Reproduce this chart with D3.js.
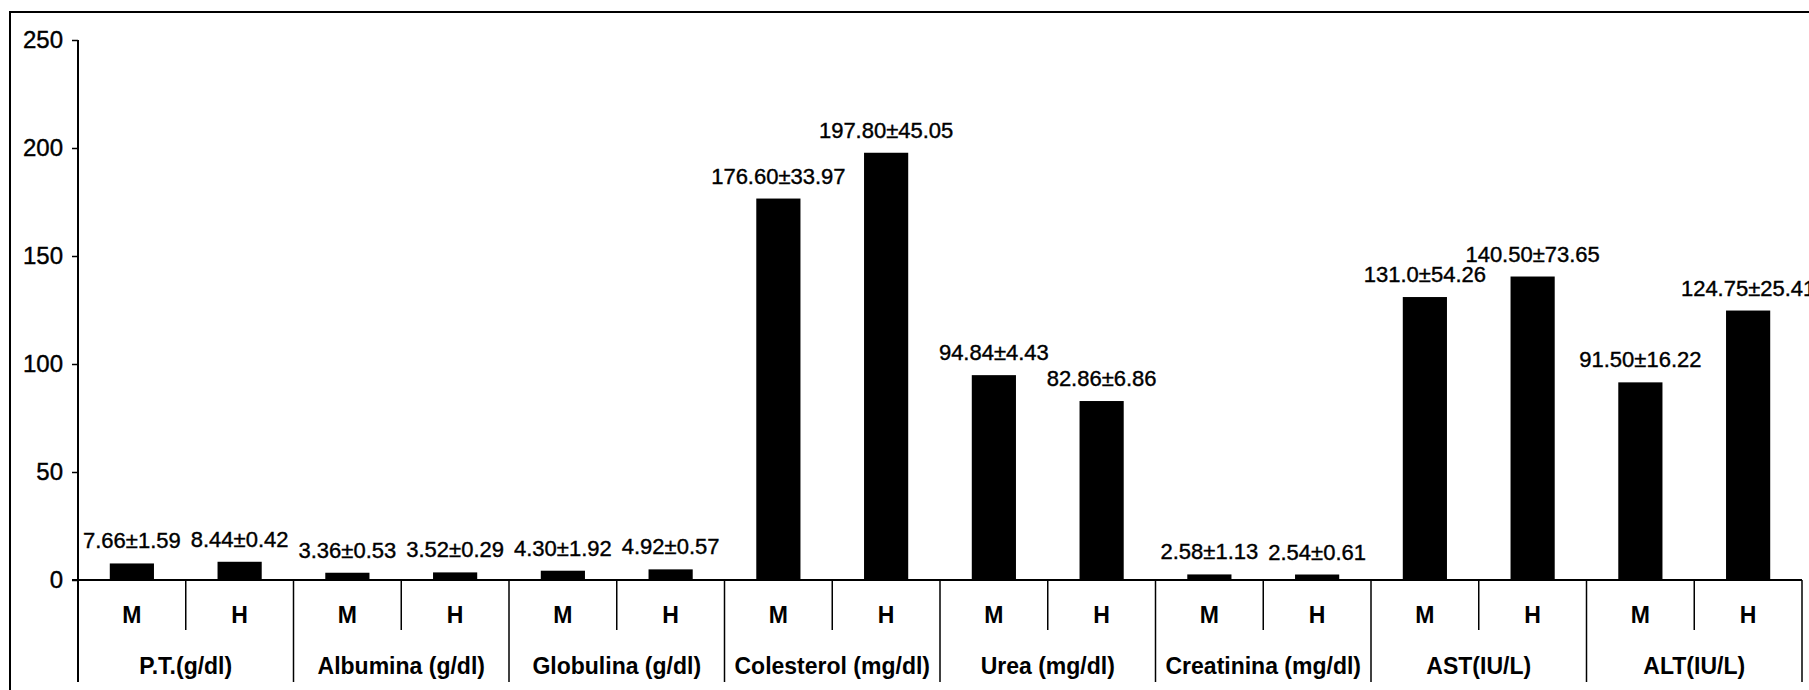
<!DOCTYPE html>
<html>
<head>
<meta charset="utf-8">
<script src="https://cdn.jsdelivr.net/npm/d3@7"></script>
<style>
  body { margin: 0; background: #fff; }
  svg { display: block; font-family: "Liberation Sans", Arial, sans-serif; }
</style>
</head>
<body>
<svg id="chart" width="1809" height="690"></svg>
<script>
// groups and sub-categories
const groups = ['P.T.(g/dl)', 'Albumina (g/dl)', 'Globulina (g/dl)', 'Colesterol (mg/dl)',
    'Urea (mg/dl)', 'Creatinina (mg/dl)', 'AST(IU/L)', 'ALT(IU/L)'];
const sexes = ['M', 'H'];

// mean values
const valuesM = [7.66, 3.36, 4.30, 176.60, 94.84, 2.58, 131.0, 91.50];
const valuesH = [8.44, 3.52, 4.92, 197.80, 82.86, 2.54, 140.50, 124.75];

// labels printed over the bars (mean ± sd)
const labelsM = ['7.66±1.59', '3.36±0.53', '4.30±1.92', '176.60±33.97', '94.84±4.43', '2.58±1.13', '131.0±54.26', '91.50±16.22'];
const labelsH = ['8.44±0.42', '3.52±0.29', '4.92±0.57', '197.80±45.05', '82.86±6.86', '2.54±0.61', '140.50±73.65', '124.75±25.41'];

const yTicks = [0, 50, 100, 150, 200, 250];

// flatten into one bar per slot
var bars = [];
groups.forEach(function(g, i) {
    bars.push({ key: g + '|M', group: g, sex: sexes[0], value: valuesM[i], label: labelsM[i] });
    bars.push({ key: g + '|H', group: g, sex: sexes[1], value: valuesH[i], label: labelsH[i] });
});

var svg = d3.select('#chart');

// outer frame of the scanned figure
svg.append('rect')
    .attr('x', 10)
    .attr('y', 12)
    .attr('width', 1900)
    .attr('height', 800)
    .attr('fill', 'none')
    .attr('stroke', '#000')
    .attr('stroke-width', 2);

var plotLeft = 78, plotRight = 1802, plotTop = 40, base = 580, plotBottom = 682;

var xScale = d3.scaleBand()
    .domain(bars.map(function(d) { return d.key; }))
    .range([plotLeft, plotRight]);

var groupScale = d3.scaleBand()
    .domain(groups)
    .range([plotLeft, plotRight]);

var yScale = d3.scaleLinear()
    .domain([0, 250])
    .range([base, plotTop]);

var barWidth = xScale.bandwidth() * 0.41;

// y axis
var yAxis = svg.append('g')
    .attr('transform', 'translate(' + plotLeft + ',0)')
    .call(d3.axisLeft(yScale).tickValues(yTicks).tickSize(6).tickSizeOuter(0).tickPadding(9));
yAxis.select('.domain').remove();
yAxis.selectAll('line').attr('stroke', '#000').attr('stroke-width', 1.5);
yAxis.selectAll('text')
    .attr('fill', '#000')
    .attr('stroke', '#000')
    .attr('stroke-width', 0.4)
    .style('font-size', '24px');

svg.append('line')
    .attr('x1', plotLeft).attr('x2', plotLeft)
    .attr('y1', plotTop).attr('y2', plotBottom)
    .attr('stroke', '#000').attr('stroke-width', 2);

// bars
svg.append('g').selectAll('rect')
    .data(bars)
    .join('rect')
    .attr('x', function(d) { return xScale(d.key) + (xScale.bandwidth() - barWidth) / 2; })
    .attr('y', function(d) { return yScale(d.value); })
    .attr('width', barWidth)
    .attr('height', function(d) { return yScale(0) - yScale(d.value); })
    .attr('fill', '#000');

// value labels
svg.append('g').selectAll('text')
    .data(bars)
    .join('text')
    .attr('x', function(d) { return xScale(d.key) + xScale.bandwidth() / 2; })
    .attr('y', function(d) { return yScale(d.value) - 15; })
    .attr('text-anchor', 'middle')
    .attr('stroke', '#000')
    .attr('stroke-width', 0.4)
    .style('font-size', '22px')
    .text(function(d) { return d.label; });

// baseline
svg.append('line')
    .attr('x1', plotLeft - 6).attr('x2', plotRight)
    .attr('y1', base).attr('y2', base)
    .attr('stroke', '#000').attr('stroke-width', 2);

// dividers between M and H (short) and between groups (long)
svg.append('g').selectAll('line')
    .data(groups)
    .join('line')
    .attr('x1', function(d) { return groupScale(d) + groupScale.bandwidth() / 2; })
    .attr('x2', function(d) { return groupScale(d) + groupScale.bandwidth() / 2; })
    .attr('y1', base)
    .attr('y2', 630)
    .attr('stroke', '#000').attr('stroke-width', 1.5);

svg.append('g').selectAll('line')
    .data(groups)
    .join('line')
    .attr('x1', function(d) { return groupScale(d) + groupScale.bandwidth(); })
    .attr('x2', function(d) { return groupScale(d) + groupScale.bandwidth(); })
    .attr('y1', base)
    .attr('y2', plotBottom)
    .attr('stroke', '#000').attr('stroke-width', 1.5);

// sex labels
svg.append('g').selectAll('text')
    .data(bars)
    .join('text')
    .attr('x', function(d) { return xScale(d.key) + xScale.bandwidth() / 2; })
    .attr('y', 623)
    .attr('text-anchor', 'middle')
    .style('font-size', '23px')
    .style('font-weight', 'bold')
    .text(function(d) { return d.sex; });

// group labels
svg.append('g').selectAll('text')
    .data(groups)
    .join('text')
    .attr('x', function(d) { return groupScale(d) + groupScale.bandwidth() / 2; })
    .attr('y', 674)
    .attr('text-anchor', 'middle')
    .style('font-size', '23px')
    .style('font-weight', 'bold')
    .text(function(d) { return d; });
</script>
</body>
</html>
